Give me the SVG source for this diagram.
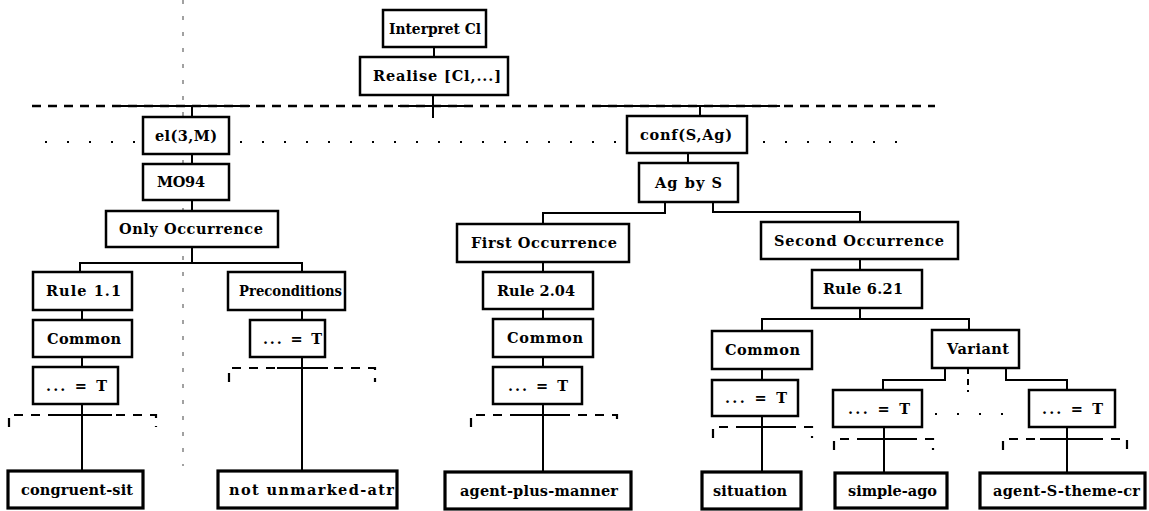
<svg xmlns="http://www.w3.org/2000/svg" width="1149" height="511" viewBox="0 0 1149 511">
<style>
  .box { fill: #fff; stroke: #000; stroke-width: 2.5; }
  .leaf { fill: #fff; stroke: #000; stroke-width: 3.2; }
  .lbl { font-family: "DejaVu Serif", "Liberation Serif", serif; font-weight: bold; font-size: 14.5px; fill: #000; }
  .c { stroke: #000; stroke-width: 2; fill: none; }
  .dash { stroke: #000; stroke-width: 2.5; fill: none; stroke-dasharray: 9 7; }
  .bdash { stroke: #000; stroke-width: 2.2; fill: none; stroke-dasharray: 9 8; }
  .dots { stroke: #000; stroke-width: 2; fill: none; stroke-dasharray: 2 20; }
  .vdd { stroke: #555; stroke-width: 1.1; fill: none; stroke-dasharray: 4 12; }
</style>
<rect width="1149" height="511" fill="#fff"/>

<!-- vertical dash-dot guide -->
<line class="vdd" x1="183" y1="0" x2="183" y2="466"/>

<g id="connectors">
  <!-- top dashed separator with solid parts -->
  <line class="dash" x1="32" y1="106" x2="935" y2="106"/>
  <line class="c" x1="120" y1="106" x2="250" y2="106" stroke-width="2.5"/>
  <line class="c" x1="398" y1="106" x2="470" y2="106" stroke-width="2.5"/>
  <line class="c" x1="600" y1="106" x2="780" y2="106" stroke-width="2.5"/>
  <!-- dotted rows -->
  <line class="dots" x1="45" y1="142" x2="140" y2="142"/>
  <line class="dots" x1="240" y1="142" x2="620" y2="142"/>
  <line class="dots" x1="763" y1="142" x2="910" y2="142"/>
  <line class="dots" x1="935" y1="414" x2="1020" y2="414"/>

  <line class="c" x1="434" y1="47" x2="434" y2="57"/>
  <line class="c" x1="433" y1="95" x2="433" y2="118"/>
  <line class="c" x1="192" y1="106" x2="192" y2="117"/>
  <line class="c" x1="700" y1="106" x2="700" y2="116"/>
  <line class="c" x1="192" y1="154" x2="192" y2="164"/>
  <line class="c" x1="192" y1="200" x2="192" y2="211"/>
  <polyline class="c" points="192,247 192,263"/>
  <polyline class="c" points="80,272 80,263 302,263 302,272"/>
  <line class="c" x1="82" y1="310" x2="82" y2="320"/>
  <line class="c" x1="82" y1="357" x2="82" y2="367"/>
  <line class="c" x1="82" y1="404" x2="82" y2="471"/>
  <line class="c" x1="302" y1="310" x2="302" y2="320"/>
  <line class="c" x1="302" y1="357" x2="302" y2="471"/>

  <line class="c" x1="688" y1="153" x2="688" y2="163"/>
  <polyline class="c" points="665,202 665,213 543,213 543,224"/>
  <polyline class="c" points="713,202 713,212 860,212 860,222"/>
  <line class="c" x1="543" y1="262" x2="543" y2="272"/>
  <line class="c" x1="543" y1="309" x2="543" y2="319"/>
  <line class="c" x1="543" y1="357" x2="543" y2="367"/>
  <line class="c" x1="543" y1="404" x2="543" y2="472"/>
  <line class="c" x1="860" y1="259" x2="860" y2="270"/>
  <line class="c" x1="860" y1="308" x2="860" y2="319"/>
  <polyline class="c" points="762,331 762,319 969,319 969,330"/>
  <line class="c" x1="762" y1="369" x2="762" y2="380"/>
  <line class="c" x1="762" y1="416" x2="762" y2="472"/>
  <polyline class="c" points="945,368 945,380 883,380 883,390"/>
  <polyline class="c" points="1006,368 1006,380 1067,380 1067,390"/>
  <line class="c" x1="968" y1="368" x2="968" y2="392" stroke-dasharray="6 5"/>
  <line class="c" x1="884" y1="427" x2="884" y2="473"/>
  <line class="c" x1="1067" y1="427" x2="1067" y2="473"/>

  <!-- dashed brackets -->
  <g>
    <polyline class="bdash" points="9,427 9,415 156,415 156,427"/>
    <line class="c" x1="50" y1="415" x2="112" y2="415" stroke-width="2.2"/>
    <polyline class="bdash" points="229,382 229,368 375,368 375,382"/>
    <line class="c" x1="277" y1="368" x2="328" y2="368" stroke-width="2.2"/>
    <polyline class="bdash" points="471,427 471,415 617,415 617,427"/>
    <line class="c" x1="518" y1="415" x2="570" y2="415" stroke-width="2.2"/>
    <polyline class="bdash" points="713,438 713,427 812,427 812,438"/>
    <line class="c" x1="738" y1="427" x2="790" y2="427" stroke-width="2.2"/>
    <polyline class="bdash" points="834,450 834,439 933,439 933,450"/>
    <line class="c" x1="860" y1="439" x2="908" y2="439" stroke-width="2.2"/>
    <polyline class="bdash" points="1003,450 1003,439 1127,439 1127,450"/>
    <line class="c" x1="1040" y1="439" x2="1095" y2="439" stroke-width="2.2"/>
  </g>
</g>

<g id="n-interpret"><rect class="box" x="383" y="10" width="103" height="37"/><text class="lbl" x="389" y="33.5" textLength="92" lengthAdjust="spacingAndGlyphs">Interpret Cl</text></g>
<g id="n-realise"><rect class="box" x="360" y="57" width="148" height="38"/><text class="lbl" x="373" y="81" textLength="128">Realise [Cl,...]</text></g>
<g id="n-el"><rect class="box" x="143" y="117" width="86" height="37"/><text class="lbl" x="155" y="140.5" textLength="62">el(3,M)</text></g>
<g id="n-mo94"><rect class="box" x="143" y="164" width="86" height="36"/><text class="lbl" x="157" y="187" textLength="48">MO94</text></g>
<g id="n-onlyocc"><rect class="box" x="106" y="211" width="172" height="36"/><text class="lbl" x="119" y="234" textLength="144">Only Occurrence</text></g>
<g id="n-conf"><rect class="box" x="627" y="116" width="120" height="37"/><text class="lbl" x="640" y="139.5" textLength="92">conf(S,Ag)</text></g>
<g id="n-agbys"><rect class="box" x="639" y="163" width="99" height="39"/><text class="lbl" x="655" y="187.5" textLength="67">Ag by S</text></g>
<g id="n-firstocc"><rect class="box" x="457" y="224" width="172" height="38"/><text class="lbl" x="471" y="248" textLength="146">First Occurrence</text></g>
<g id="n-secondocc"><rect class="box" x="761" y="222" width="197" height="37"/><text class="lbl" x="774" y="245.5" textLength="170">Second Occurrence</text></g>

<g id="n-rule11"><rect class="box" x="33" y="272" width="99" height="38"/><text class="lbl" x="46" y="296" textLength="75">Rule 1.1</text></g>
<g id="n-common1"><rect class="box" x="33" y="320" width="99" height="37"/><text class="lbl" x="47" y="343.5" textLength="74">Common</text></g>
<g id="n-t1"><rect class="box" x="33" y="367" width="85" height="37"/><text class="lbl" x="46" y="390.5" textLength="61">... = T</text></g>
<g id="n-congruent"><rect class="leaf" x="8" y="471" width="135" height="37"/><text class="lbl" x="21" y="494.5" textLength="112">congruent-sit</text></g>

<g id="n-precond"><rect class="box" x="228" y="272" width="117" height="38"/><text class="lbl" x="239" y="296" textLength="103" lengthAdjust="spacingAndGlyphs">Preconditions</text></g>
<g id="n-t2"><rect class="box" x="250" y="320" width="75" height="37"/><text class="lbl" x="263" y="343.5" textLength="59">... = T</text></g>
<g id="n-notunmarked"><rect class="leaf" x="218" y="471" width="179" height="37"/><text class="lbl" x="229" y="494.5" textLength="165">not unmarked-atr</text></g>

<g id="n-rule204"><rect class="box" x="483" y="272" width="110" height="37"/><text class="lbl" x="497" y="295.5" textLength="78">Rule 2.04</text></g>
<g id="n-common2"><rect class="box" x="493" y="319" width="100" height="38"/><text class="lbl" x="507" y="343" textLength="76">Common</text></g>
<g id="n-t3"><rect class="box" x="493" y="367" width="89" height="37"/><text class="lbl" x="508" y="390.5" textLength="60">... = T</text></g>
<g id="n-agentplus"><rect class="leaf" x="445" y="472" width="186" height="37"/><text class="lbl" x="460" y="495.5" textLength="158">agent-plus-manner</text></g>

<g id="n-rule621"><rect class="box" x="812" y="270" width="110" height="38"/><text class="lbl" x="823" y="294" textLength="80">Rule 6.21</text></g>
<g id="n-common3"><rect class="box" x="712" y="331" width="100" height="38"/><text class="lbl" x="725" y="355" textLength="75">Common</text></g>
<g id="n-t4"><rect class="box" x="712" y="380" width="86" height="36"/><text class="lbl" x="725" y="403" textLength="62">... = T</text></g>
<g id="n-situation"><rect class="leaf" x="702" y="472" width="99" height="37"/><text class="lbl" x="713" y="495.5" textLength="74">situation</text></g>

<g id="n-variant"><rect class="box" x="932" y="330" width="87" height="38"/><text class="lbl" x="947" y="354" textLength="62">Variant</text></g>
<g id="n-t5"><rect class="box" x="833" y="390" width="89" height="37"/><text class="lbl" x="848" y="413.5" textLength="62">... = T</text></g>
<g id="n-t6"><rect class="box" x="1029" y="390" width="86" height="37"/><text class="lbl" x="1042" y="413.5" textLength="61">... = T</text></g>
<g id="n-simpleago"><rect class="leaf" x="835" y="473" width="112" height="35"/><text class="lbl" x="848" y="495.5" textLength="89">simple-ago</text></g>
<g id="n-agents"><rect class="leaf" x="980" y="473" width="165" height="35"/><text class="lbl" x="993" y="495.5" textLength="147">agent-S-theme-cr</text></g>
</svg>
